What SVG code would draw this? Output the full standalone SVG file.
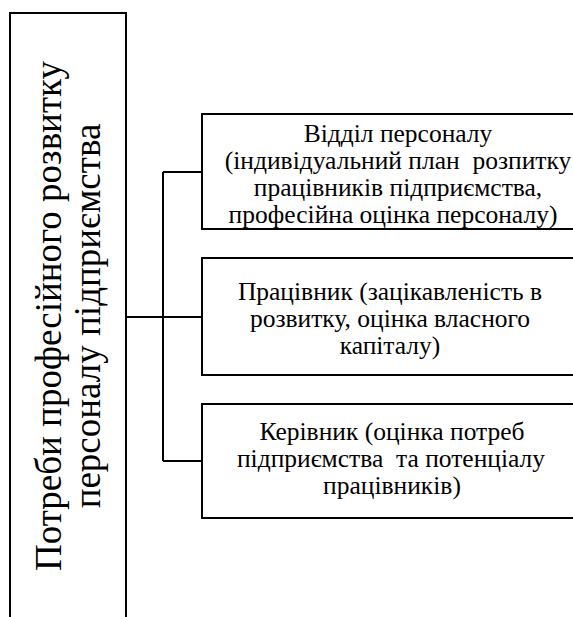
<svg xmlns="http://www.w3.org/2000/svg" width="573" height="617" viewBox="0 0 573 617">
<rect width="573" height="617" fill="#fff"/>
<g id="main">
<rect x="10" y="13" width="116" height="620" fill="#fff" stroke="#000" stroke-width="2"/>
<text font-family="Liberation Serif" style="font-family:'Liberation Serif',serif" font-size="37" text-anchor="middle" transform="translate(61,316) rotate(-90)">Потреби професійного розвитку</text>
<text font-family="Liberation Serif" style="font-family:'Liberation Serif',serif" font-size="37" text-anchor="middle" transform="translate(100,316) rotate(-90)">персоналу підприємства</text>
</g>
<g id="connectors" fill="none" stroke="#000" stroke-width="2">
<path d="M126 317H202M163 172V461M163 172H202M163 461H202"/>
</g>
<g id="node1">
<rect x="202" y="114" width="380" height="115" fill="#fff" stroke="#000" stroke-width="2"/>
<text font-family="Liberation Serif" style="font-family:'Liberation Serif',serif" font-size="25.5" text-anchor="middle" x="398" y="142">Відділ персоналу</text>
<text font-family="Liberation Serif" style="font-family:'Liberation Serif',serif" font-size="25.5" text-anchor="middle" x="398" y="169" xml:space="preserve">(індивідуальний план  розпитку</text>
<text font-family="Liberation Serif" style="font-family:'Liberation Serif',serif" font-size="25.5" text-anchor="middle" x="398" y="196">працівників підприємства,</text>
<text font-family="Liberation Serif" style="font-family:'Liberation Serif',serif" font-size="25.5" text-anchor="middle" x="393" y="223">професійна оцінка персоналу)</text>
</g>
<g id="node2">
<rect x="202" y="258" width="380" height="117" fill="#fff" stroke="#000" stroke-width="2"/>
<text font-family="Liberation Serif" style="font-family:'Liberation Serif',serif" font-size="25.5" text-anchor="middle" x="390" y="300">Працівник (зацікавленість в</text>
<text font-family="Liberation Serif" style="font-family:'Liberation Serif',serif" font-size="25.5" text-anchor="middle" x="390" y="327">розвитку, оцінка власного</text>
<text font-family="Liberation Serif" style="font-family:'Liberation Serif',serif" font-size="25.5" text-anchor="middle" x="390" y="354">капіталу)</text>
</g>
<g id="node3">
<rect x="202" y="404" width="380" height="114" fill="#fff" stroke="#000" stroke-width="2"/>
<text font-family="Liberation Serif" style="font-family:'Liberation Serif',serif" font-size="25.5" text-anchor="middle" x="392" y="440">Керівник (оцінка потреб</text>
<text font-family="Liberation Serif" style="font-family:'Liberation Serif',serif" font-size="25.5" text-anchor="middle" x="391" y="467" xml:space="preserve">підприємства  та потенціалу</text>
<text font-family="Liberation Serif" style="font-family:'Liberation Serif',serif" font-size="25.5" text-anchor="middle" x="392" y="494">працівників)</text>
</g>
</svg>
